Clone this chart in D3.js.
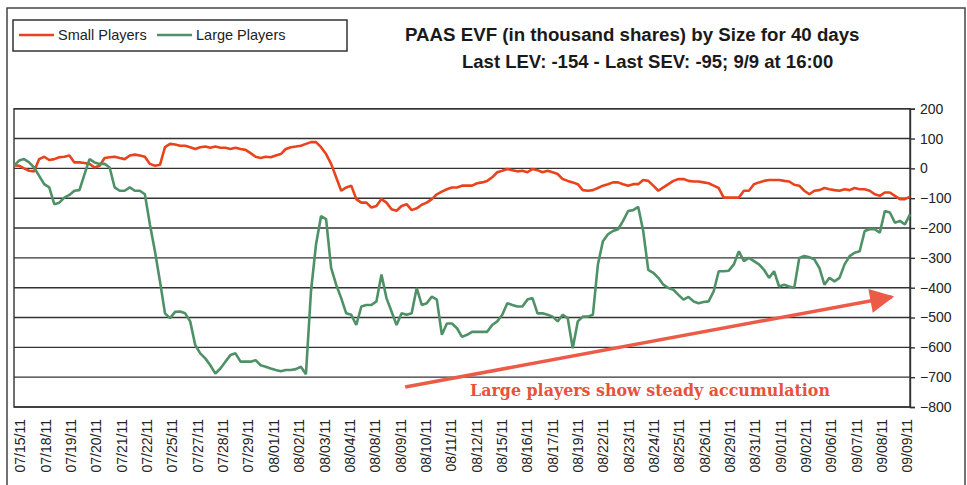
<!DOCTYPE html>
<html>
<head>
<meta charset="utf-8">
<script src="https://cdn.jsdelivr.net/npm/d3@7"></script>
<style>
  body { margin: 0; background: #fff; }
  text { font-family: "Liberation Sans", Arial, sans-serif; }
</style>
</head>
<body>
<div class="chart"></div>
<script>
const svgWidth = 967
const svgHeight = 485

// x-axis day labels
const dates = [
  "07/15/11", "07/18/11", "07/19/11", "07/20/11", "07/21/11", "07/22/11",
  "07/25/11", "07/27/11", "07/28/11", "07/29/11", "08/01/11", "08/02/11",
  "08/03/11", "08/04/11", "08/08/11", "08/09/11", "08/10/11", "08/11/11",
  "08/12/11", "08/15/11", "08/16/11", "08/17/11", "08/19/11", "08/22/11",
  "08/23/11", "08/24/11", "08/25/11", "08/26/11", "08/29/11", "08/31/11",
  "09/01/11", "09/02/11", "09/06/11", "09/07/11", "09/08/11", "09/09/11"
]

const yTicks = [200, 100, 0, -100, -200, -300, -400, -500, -600, -700, -800]

// EVF samples (thousand shares), evenly spaced across the 40 days
const smallPlayers = [
  10, 9, 0, -8, -10, 31, 39, 28, 31, 37, 39, 43, 20, 20, 18, 15, 3, 9, 35, 37,
  39, 35, 31, 43, 46, 43, 39, 15, 9, 12, 71, 82, 80, 76, 76, 71, 65, 71, 73, 69,
  73, 69, 69, 65, 69, 65, 62, 51, 39, 35, 39, 37, 43, 48, 65, 71, 73, 76, 82, 88,
  88, 71, 48, 15, -30, -75, -64, -58, -103, -115, -115, -131, -126, -103, -115, -137, -142, -126, -120, -140,
  -134, -122, -115, -103, -87, -78, -70, -64, -64, -58, -58, -58, -50, -47, -42, -30, -13, -8, -2, -6,
  -10, -8, -13, -2, -6, -13, -8, -13, -19, -36, -42, -47, -53, -73, -75, -73, -66, -58, -53, -47,
  -47, -53, -58, -53, -53, -39, -42, -58, -75, -64, -53, -42, -36, -36, -42, -44, -44, -47, -50, -58,
  -66, -98, -98, -98, -98, -75, -75, -53, -47, -42, -39, -39, -39, -42, -44, -55, -58, -75, -87, -75,
  -73, -66, -70, -73, -75, -70, -73, -66, -70, -70, -75, -87, -92, -81, -81, -92, -103, -103, -95
]

const largePlayers = [
  9, 26, 31, 20, 3, -25, -53, -64, -120, -115, -98, -89, -75, -73, -20, 31, 20, 15, 15, 3,
  -64, -75, -75, -64, -75, -75, -87, -188, -278, -379, -486, -502, -481, -480, -486, -513, -592, -620, -637, -660,
  -688, -671, -648, -626, -620, -648, -648, -648, -643, -660, -665, -671, -676, -680, -676, -676, -673, -665, -690, -412,
  -255, -160, -170, -334, -390, -435, -486, -491, -525, -463, -458, -458, -446, -356, -435, -480, -525, -486, -491, -486,
  -401, -458, -452, -430, -440, -558, -520, -520, -536, -565, -558, -548, -548, -548, -548, -525, -513, -491, -452, -458,
  -463, -463, -440, -435, -486, -486, -491, -497, -513, -491, -502, -603, -513, -497, -497, -491, -322, -244, -221, -210,
  -204, -176, -143, -140, -129, -210, -340, -350, -367, -390, -401, -407, -424, -440, -431, -446, -452, -448, -446, -412,
  -345, -345, -343, -322, -278, -311, -300, -311, -322, -340, -367, -345, -396, -390, -396, -401, -300, -294, -298, -305,
  -334, -390, -367, -379, -367, -322, -294, -283, -278, -210, -204, -204, -216, -143, -148, -182, -176, -188, -154
]

// annotation arrow, in (day position 0..35, value)
const arrowFrom = [15.2, -733]
const arrowTo = [34.4, -431]

let margin = { top: 108.7, right: 57, bottom: 78, left: 14 }
let width = svgWidth - margin.left - margin.right
let height = svgHeight - margin.top - margin.bottom

let svg = d3.select(".chart")
  .append("svg")
  .attr("width", svgWidth)
  .attr("height", svgHeight)

// outer frame
svg.append("rect")
  .attr("x", 7).attr("y", 8)
  .attr("width", 958).attr("height", 500)
  .attr("fill", "none")
  .attr("stroke", "#444")
  .attr("stroke-width", 1.5)

let chart = svg.append("g")
  .attr("transform", `translate(${margin.left}, ${margin.top})`)

let x = d3.scaleLinear()
  .domain([0, smallPlayers.length - 1])
  .range([0, width])

let xDay = d3.scalePoint()
  .domain(dates)
  .range([6, width - 3])

let xPos = d3.scaleLinear()
  .domain([0, dates.length - 1])
  .range([6, width - 3])

let y = d3.scaleLinear()
  .domain([-800, 200])
  .range([height, 0])

// gridlines
chart.append("g")
  .selectAll("line")
  .data(yTicks)
  .enter()
  .append("line")
  .attr("x1", 0).attr("x2", width)
  .attr("y1", d => y(d)).attr("y2", d => y(d))
  .attr("stroke", "#333")
  .attr("stroke-width", 1.4)

chart.append("rect")
  .attr("width", width).attr("height", height)
  .attr("fill", "none")
  .attr("stroke", "#333")
  .attr("stroke-width", 1.4)

// right axis
let rightAxis = chart.append("g")
  .attr("transform", `translate(${width}, 0)`)
  .call(d3.axisRight(y).tickValues(yTicks).tickSize(5).tickPadding(5))
rightAxis.select(".domain").attr("stroke", "#333").attr("stroke-width", 1.4)
rightAxis.selectAll("line").attr("stroke", "#333").attr("stroke-width", 1.4)
rightAxis.selectAll("text")
  .attr("font-size", "14px")
  .attr("fill", "#222")
  .style("font-family", "'Liberation Sans', Arial, sans-serif")

// bottom date labels
let bottomAxis = chart.append("g")
  .attr("transform", `translate(0, ${height})`)
  .call(d3.axisBottom(xDay).tickSize(0))
bottomAxis.select(".domain").remove()
bottomAxis.selectAll("text")
  .attr("transform", "rotate(-90)")
  .attr("x", -12)
  .attr("y", 0)
  .attr("dy", "0.35em")
  .style("text-anchor", "end")
  .attr("font-size", "14px")
  .attr("fill", "#222")
  .style("font-family", "'Liberation Sans', Arial, sans-serif")

// series
let line = d3.line()
  .x((d, i) => x(i))
  .y(d => y(d))

chart.append("path")
  .datum(smallPlayers)
  .attr("d", line)
  .attr("fill", "none")
  .attr("stroke", "#e8431c")
  .attr("stroke-width", 2.6)
  .attr("stroke-linejoin", "bevel")

chart.append("path")
  .datum(largePlayers)
  .attr("d", line)
  .attr("fill", "none")
  .attr("stroke", "#4f9166")
  .attr("stroke-width", 2.6)
  .attr("stroke-linejoin", "bevel")

// annotation arrow
svg.append("defs")
  .append("marker")
  .attr("id", "head")
  .attr("viewBox", "0 0 10 10")
  .attr("refX", 9).attr("refY", 5)
  .attr("markerUnits", "userSpaceOnUse")
  .attr("markerWidth", 26).attr("markerHeight", 24)
  .attr("orient", "auto")
  .append("path")
  .attr("d", "M0,0 L10,5 L0,10 z")
  .attr("fill", "#ec5b48")

chart.append("line")
  .attr("x1", xPos(arrowFrom[0])).attr("y1", y(arrowFrom[1]))
  .attr("x2", xPos(arrowTo[0])).attr("y2", y(arrowTo[1]))
  .attr("stroke", "#ec5b48")
  .attr("stroke-width", 3.5)
  .attr("marker-end", "url(#head)")

svg.append("text")
  .attr("x", 470).attr("y", 396)
  .attr("textLength", 360)
  .attr("lengthAdjust", "spacingAndGlyphs")
  .attr("font-size", "16.5px")
  .attr("font-weight", "bold")
  .attr("fill", "#e8513c")
  .style("font-family", "'DejaVu Serif', 'Liberation Serif', serif")
  .text("Large players show steady accumulation")

// title
svg.append("text")
  .attr("x", 405).attr("y", 41)
  .attr("font-size", "18.7px")
  .attr("font-weight", "bold")
  .attr("fill", "#1a1a1a")
  .text("PAAS EVF (in thousand shares) by Size for 40 days")

svg.append("text")
  .attr("x", 462).attr("y", 68)
  .attr("font-size", "18.5px")
  .attr("font-weight", "bold")
  .attr("fill", "#1a1a1a")
  .text("Last LEV: -154 - Last SEV: -95; 9/9 at 16:00")

// legend
let legend = svg.append("g")
legend.append("rect")
  .attr("x", 13).attr("y", 20)
  .attr("width", 334).attr("height", 31)
  .attr("fill", "#fff")
  .attr("stroke", "#333")
  .attr("stroke-width", 1.5)

let legendItems = [
  { name: "Small Players", color: "#e8431c", x: 19 },
  { name: "Large Players", color: "#4f9166", x: 157 }
]
legendItems.forEach(item => {
  legend.append("line")
    .attr("x1", item.x).attr("x2", item.x + 35)
    .attr("y1", 35).attr("y2", 35)
    .attr("stroke", item.color)
    .attr("stroke-width", 2.6)
  legend.append("text")
    .attr("x", item.x + 39).attr("y", 40)
    .attr("font-size", "14.5px")
    .attr("fill", "#222")
    .text(item.name)
})
</script>
</body>
</html>
